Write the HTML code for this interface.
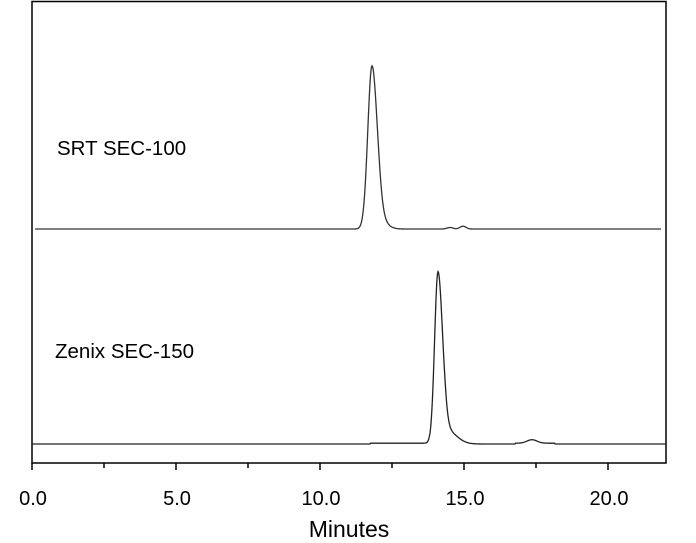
<!DOCTYPE html>
<html><head><meta charset="utf-8"><style>
html,body{margin:0;padding:0;background:#fff;}
svg{display:block;font-family:"Liberation Sans",Arial,sans-serif;}
</style></head><body>
<svg id="s" width="696" height="543" viewBox="0 0 696 543">
<rect x="32" y="1.5" width="634" height="461.5" fill="none" stroke="#000" stroke-width="1.5"/>
<g stroke="#000" stroke-width="1.5">
<line x1="32" y1="463" x2="32" y2="470"/><line x1="104" y1="463" x2="104" y2="468"/>
<line x1="176" y1="463" x2="176" y2="470"/><line x1="248" y1="463" x2="248" y2="468"/>
<line x1="320" y1="463" x2="320" y2="470"/><line x1="392" y1="463" x2="392" y2="468"/>
<line x1="464" y1="463" x2="464" y2="470"/><line x1="536" y1="463" x2="536" y2="468"/>
<line x1="608" y1="463" x2="608" y2="470"/>
</g>
<g font-size="20" text-anchor="middle" fill="#000">
<text x="33" y="505">0.0</text><text x="177" y="505">5.0</text><text x="321" y="505">10.0</text>
<text x="465" y="505">15.0</text><text x="609" y="505">20.0</text>
</g>
<text x="349" y="537" font-size="23" text-anchor="middle">Minutes</text>
<text x="57" y="155" font-size="20.5">SRT SEC-100</text>
<text x="55" y="358" font-size="20.5">Zenix SEC-150</text>
<path id="p1" fill="none" stroke="#333" stroke-width="1.3"/>
<path id="p2" fill="none" stroke="#222" stroke-width="1.3"/>
</svg>
<script>
function peak(x,c,h,sl,sr){var s=x<c?sl:sr;return h*Math.exp(-0.5*Math.pow((x-c)/s,2));}
function mk(x0,x1,base,f){var d="";for(var x=x0;x<=x1;x+=0.5){d+=(x==x0?"M":"L")+x+","+(base-f(x)).toFixed(2);}return d;}
document.getElementById("p1").setAttribute("d",mk(35,661,229,function(x){
 return peak(x,372,163,4.2,5.2)+peak(x,380,8,3,7)+peak(x,450,1.5,3,3)+peak(x,463,2.8,3,3);}));
document.getElementById("p2").setAttribute("d",mk(32,666,444,function(x){
 return peak(x,438,172,3.4,4.5)+peak(x,446,14,3,10)+peak(x,532,3.5,5,5)+(x>370&&x<430?0.8:0)+(x>515&&x<555?0.8:0);}));
</script>
</body></html>
